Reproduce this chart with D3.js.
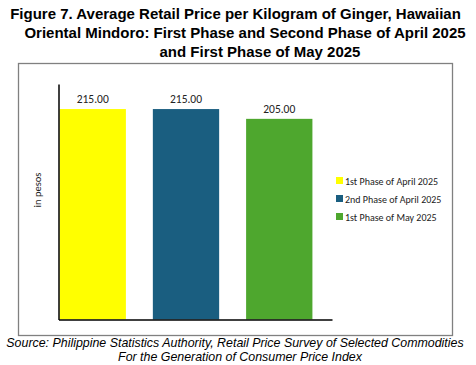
<!DOCTYPE html>
<html><head><meta charset="utf-8">
<script src="https://cdn.jsdelivr.net/npm/d3@7"></script>
<style>body{margin:0;background:#fff}svg{display:block}</style>
</head><body>
<script>
const categories = ["1st Phase of April 2025", "2nd Phase of April 2025", "1st Phase of May 2025"];
const values = [215.00, 215.00, 205.00];
const colors = ["#FFFF00", "#1A5E80", "#4EA72E"];
const titleLines = [
  "Figure 7. Average Retail Price per Kilogram of Ginger, Hawaiian",
  "Oriental Mindoro: First Phase and Second Phase of April 2025",
  "and First Phase of May 2025"
];
const sourceLines = [
  "Source: Philippine Statistics Authority, Retail Price Survey of Selected Commodities",
  "For the Generation of Consumer Price Index"
];
const yLabel = "in pesos";

const W = 476, H = 365;
const svg = d3.select("body").append("svg").attr("width", W).attr("height", H);

// title
const tx = [235.5, 245, 260], ty = [19, 38, 57];
svg.selectAll("text.title").data(titleLines).join("text")
  .attr("class","title")
  .attr("x",(d,i)=>tx[i]).attr("y",(d,i)=>ty[i])
  .attr("text-anchor","middle")
  .attr("font-family","Liberation Sans, Arial, sans-serif")
  .attr("font-weight","bold").attr("font-size",15).attr("fill","#000")
  .text(d=>d);

// chart border
svg.append("rect").attr("x",18.5).attr("y",63.5).attr("width",434).attr("height",272)
  .attr("fill","#fff").attr("stroke","#808080").attr("stroke-width",1.3);

const y = d3.scaleLinear().domain([0, 240.6]).range([319.5, 84]);
const x = d3.scaleBand().domain(categories).range([40, 332]).paddingInner(0.289).paddingOuter(0.21);

// bars
svg.selectAll("rect.bar").data(values).join("rect")
  .attr("class","bar")
  .attr("x",(d,i)=>x(categories[i]))
  .attr("y",d=>y(d))
  .attr("width",x.bandwidth())
  .attr("height",d=>y(0)-y(d))
  .attr("fill",(d,i)=>colors[i]);

// axes
const yAxis = svg.append("g").attr("transform","translate(58.5,0)")
  .call(d3.axisLeft(y).tickValues([]).tickSizeOuter(0));
yAxis.select(".domain").attr("stroke","#000").attr("stroke-width",1.5);
const xAxis = svg.append("g").attr("transform",`translate(0,${y(0)})`)
  .call(d3.axisBottom(d3.scaleLinear().range([58.5, 332])).tickValues([]).tickSizeOuter(0));
xAxis.select(".domain").attr("stroke","#000").attr("stroke-width",1.5);

// value labels
svg.selectAll("text.val").data(values).join("text")
  .attr("class","val")
  .attr("x",(d,i)=>x(categories[i])+x.bandwidth()/2)
  .attr("y",d=>y(d)-6)
  .attr("text-anchor","middle")
  .attr("font-family","Carlito, Lato, 'Open Sans', sans-serif")
  .attr("font-size",11.5).attr("fill","#222")
  .text(d=>d3.format(".2f")(d));

// y label
svg.append("text")
  .attr("transform","translate(41,190) rotate(-90)")
  .attr("text-anchor","middle")
  .attr("font-family","Carlito, Lato, 'Open Sans', sans-serif")
  .attr("font-size",10.5).attr("fill","#222")
  .text(yLabel);

// legend
const lg = svg.append("g");
categories.forEach((c,i)=>{
  const yy = 181 + i*18;
  lg.append("rect").attr("x",336).attr("y",yy-4).attr("width",7).attr("height",7).attr("fill",colors[i]);
  lg.append("text").attr("x",345).attr("y",yy+3.5)
    .attr("font-family","Carlito, Lato, 'Open Sans', sans-serif")
    .attr("font-size",10).attr("fill","#222").text(c);
});

// source
const sx=[235,240], sy=[347,361];
svg.selectAll("text.src").data(sourceLines).join("text")
  .attr("class","src")
  .attr("x",(d,i)=>sx[i]).attr("y",(d,i)=>sy[i])
  .attr("text-anchor","middle")
  .attr("font-family","Liberation Sans, Arial, sans-serif")
  .attr("font-style","italic").attr("font-size",12.4).attr("fill","#000")
  .text(d=>d);
</script>
</body></html>
